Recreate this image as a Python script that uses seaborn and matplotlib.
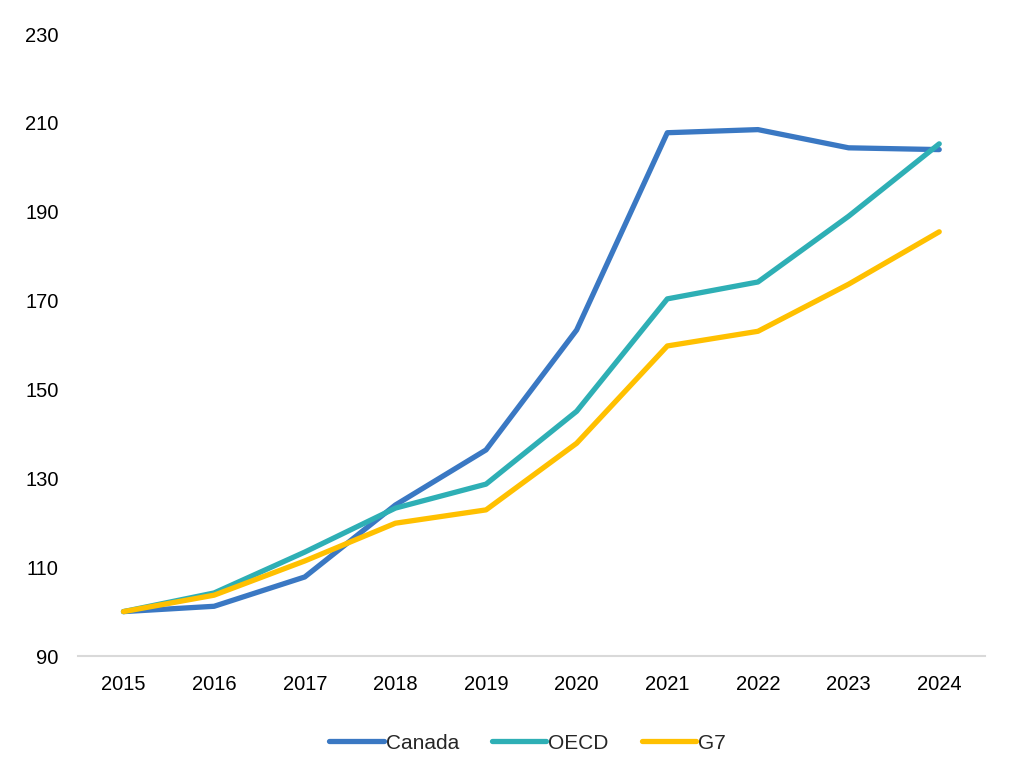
import numpy as np
import pandas as pd
import seaborn as sns
import matplotlib.pyplot as plt
from matplotlib.lines import Line2D

years = [2015, 2016, 2017, 2018, 2019, 2020, 2021, 2022, 2023, 2024]
canada = [100.0, 101.2, 107.8, 124.0, 136.4, 163.4, 207.8, 208.5, 204.4, 204.0]
oecd = [100.0, 104.2, 113.4, 123.3, 128.7, 145.1, 170.4, 174.2, 189.0, 205.3]
g7 = [100.0, 103.7, 111.4, 119.9, 122.9, 137.9, 159.8, 163.1, 173.7, 185.5]
series = ['Canada', 'OECD', 'G7']
colors = ['#3A78C3', '#2EAFB5', '#FFC000']
yticks = list(range(90, 231, 20))

df = pd.DataFrame({'year': years * 3,
                   'value': canada + oecd + g7,
                   'series': [s for s in series for _ in years]})

sns.set_style('white')
plt.rcParams['font.family'] = ['Liberation Sans', 'DejaVu Sans']

fig = plt.figure(figsize=(10.15, 7.75), dpi=100)
ax = fig.add_axes([0.077, 0.1535, 0.893, 0.8025])
sns.lineplot(data=df, x='year', y='value', hue='series', hue_order=series,
             palette=colors, linewidth=3.8, ax=ax, legend=False)
ax.set_xlim(2014.5, 2024.5)
ax.set_ylim(90, 230)
ax.set_xticks(years)
ax.set_yticks(yticks)
ax.tick_params(axis='both', labelsize=14.5, length=0, colors='black')
ax.tick_params(axis='x', pad=14)
ax.tick_params(axis='y', pad=14)
ax.set_xlabel(''); ax.set_ylabel('')
for side in ['top', 'right', 'left']:
    ax.spines[side].set_visible(False)
ax.spines['bottom'].set_color('#D9D9D9')
ax.spines['bottom'].set_linewidth(1.5)

handles = [Line2D([0], [0], color=c, lw=3.8, solid_capstyle='round') for c in colors]
fig.legend(handles, series, loc='center', bbox_to_anchor=(0.52, 0.041), ncol=3,
           frameon=False, fontsize=15, handlelength=2.6, handletextpad=0.1,
           columnspacing=1.6)
plt.savefig('out.png', dpi=100)
